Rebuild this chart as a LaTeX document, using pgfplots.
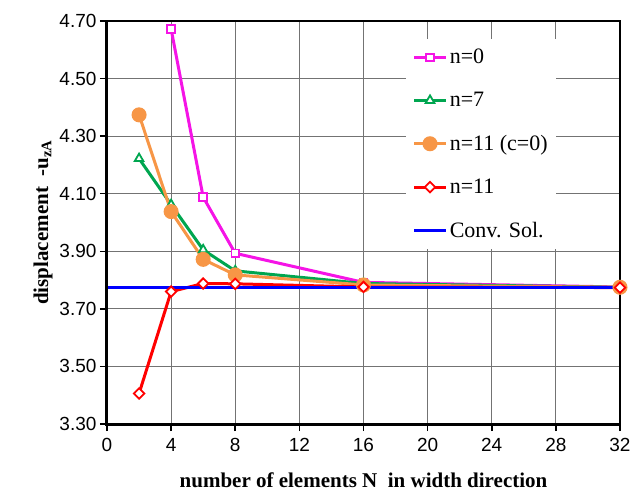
\documentclass[border=0pt]{standalone}
\usepackage{fontspec}
\setmainfont{Liberation Serif}
\newfontfamily\arial{Liberation Sans}
\usepackage{pgfplots}
\pgfplotsset{compat=1.18}
\definecolor{cmag}{RGB}{245,20,230}
\definecolor{cgreen}{RGB}{0,166,80}
\definecolor{corange}{RGB}{247,150,70}
\definecolor{cred}{RGB}{255,0,0}
\definecolor{cblue}{RGB}{0,0,255}
\begin{document}
\begin{tikzpicture}
\useasboundingbox (-107pt,-67pt) rectangle (525pt,424pt);
\begin{axis}[
  width=513pt, height=403pt, scale only axis,
  xmin=0, xmax=32, ymin=3.3, ymax=4.7,
  xtick={0,4,...,32},
  ytick={3.3,3.5,3.7,3.9,4.1,4.3,4.5,4.7},
  xtick pos=left, ytick pos=left,
  tick align=outside, major tick length=7pt,
  tick style={black, line width=1.5pt},
  axis line style={black, line width=1.5pt},
  xmajorgrids, ymajorgrids,
  major grid style={black!55, line width=0.9pt},
  /pgf/number format/assume math mode=true,
  ticklabel style={font=\arial\fontsize{19}{19}\selectfont},
  xticklabel style={yshift=-4pt},
  yticklabel style={/pgf/number format/.cd, fixed, fixed zerofill, precision=2},
  xlabel={\bfseries number of elements N\ \ in width direction},
  ylabel={\bfseries displacement\ \ -u\textsubscript{zA}},
  label style={font=\fontsize{21}{21}\selectfont},
  xlabel style={yshift=-14pt},
  clip=false,
  legend style={at={(axis description cs:0.583,0.955)}, anchor=north west,
    draw=none, fill=white, font=\fontsize{22}{22}\selectfont,
    row sep=23pt, inner xsep=6pt, inner ysep=8pt},
  legend cell align=left,
  legend image code/.code={\draw[mark repeat=2,mark phase=2] plot coordinates {(0pt,0pt)(16pt,0pt)(32pt,0pt)};},
]
\addplot[cmag, line width=3pt, mark=square*, mark size=3.8pt, mark options={fill=white, line width=1.8pt}]
  coordinates {(4,4.672)(6,4.088)(8,3.893)(16,3.792)(32,3.776)};
\addlegendentry{n=0}
\addplot[cgreen, line width=3pt, mark=triangle*, mark size=5pt, mark options={fill=white, line width=1.8pt}]
  coordinates {(2,4.222)(4,4.062)(6,3.905)(8,3.832)(16,3.788)(32,3.775)};
\addlegendentry{n=7}
\addplot[corange, line width=3pt, mark=*, mark size=6pt, mark options={fill=corange}]
  coordinates {(2,4.374)(4,4.038)(6,3.872)(8,3.818)(16,3.783)(32,3.775)};
\addlegendentry{n=11 (c=0)}
\addplot[cred, line width=3pt, mark=square*, mark size=3.7pt, mark options={fill=white, line width=1.8pt, rotate=45}]
  coordinates {(2,3.406)(4,3.760)(6,3.788)(8,3.787)(16,3.776)(32,3.774)};
\addlegendentry{n=11}
\addplot[cblue, line width=3.5pt]
  coordinates {(0,3.774)(32,3.774)};
\addlegendentry{Conv. Sol.}
\draw[black, line width=3pt] (rel axis cs:0,1) -- (rel axis cs:0,0) -- (rel axis cs:1,0);
\end{axis}
\end{tikzpicture}
\end{document}
